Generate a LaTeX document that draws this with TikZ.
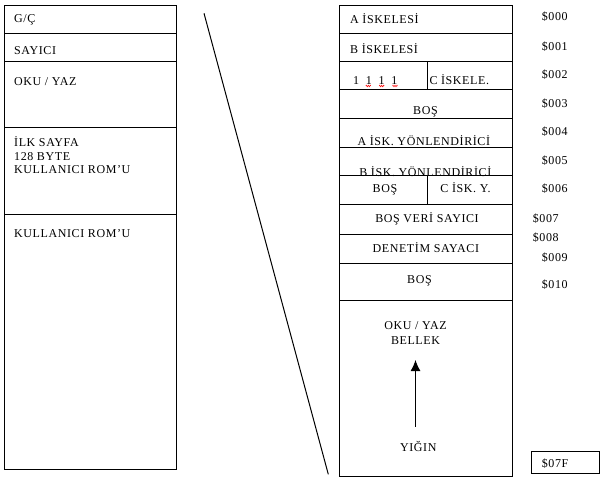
\documentclass[tikz,border=0pt]{standalone}
\usepackage{fontspec}
\setmainfont[LetterSpace=5]{Liberation Serif}
\usetikzlibrary{arrows.meta, positioning, decorations.pathmorphing}

\begin{document}
\begin{tikzpicture}[
  x=1pt, y=-1pt,
  cell/.style={rectangle, draw, line width=1pt, inner sep=0pt, outer sep=0pt, minimum height=#1},
  lcell/.style={cell=#1, minimum width=172pt},
  rcell/.style={cell=#1, minimum width=173pt},
  lbl/.style={inner sep=0pt, text height=8pt, text depth=0pt, font=\fontsize{12}{15}\selectfont},
  txt/.style={lbl, anchor=west},
  adr/.style={lbl, anchor=west},
  >={Latex[length=11pt,width=10pt]}
]
\useasboundingbox (0,0) rectangle (604,480);

% left column
\node[lcell=28pt, anchor=north west] (gc) at (4,5) {};
\node[lcell=28pt, below=0pt of gc] (cnt) {};
\node[lcell=66pt, below=0pt of cnt] (rw) {};
\node[lcell=87pt, below=0pt of rw] (pg) {};
\node[lcell=255pt, below=0pt of pg] (rom) {};

\node[txt] (gct) at (14,18.8) {G/Ç};
\node[txt] (cntt) at (14,50.3) {SAYICI};
\node[txt] (rwt) at (14,81.3) {OKU / YAZ};
\node[txt] (pgt1) at (14,142.2) {İLK SAYFA};
\node[txt] (pgt2) at (14,156.7) {128 BYTE};
\node[txt] (pgt3) at (14,169.7) {KULLANICI ROM’U};
\node[txt] (romt) at (14,233.2) {KULLANICI ROM’U};

% right column
\node[rcell=28pt, anchor=north west] (pa) at (339.5,5) {};
\node[rcell=28pt, below=0pt of pa] (pb) {};
\node[cell=28.5pt, minimum width=87.5pt, anchor=north west] (bits) at (pb.south west) {};
\node[cell=28.5pt, minimum width=85.5pt, right=0pt of bits] (pc) {};
\node[rcell=29pt, anchor=north] (free1) at (bits.south -| pb.south) {};
\node[rcell=29pt, below=0pt of free1] (dda) {};
\node[rcell=28pt, below=0pt of dda] (ddb) {};
\node[cell=29pt, minimum width=87.5pt, anchor=north west] (free2) at (ddb.south west) {};
\node[cell=29pt, minimum width=85.5pt, right=0pt of free2] (ddc) {};
\node[rcell=30pt, anchor=north] (idle) at (free2.south -| ddb.south) {};
\node[rcell=29pt, below=0pt of idle] (tmr) {};
\node[rcell=36.5pt, below=0pt of tmr] (free3) {};
\node[rcell=176pt, below=0pt of free3] (ram) {};

\node[txt] (pat) at (350,19.2) {A İSKELESİ};
\node[txt] (pbt) at (350,49.5) {B İSKELESİ};
\node[txt] (bitst) at (353,80.8) {1\hskip 6.7pt 1\hskip 6.7pt 1\hskip 6.7pt 1};
\node[txt] (pct) at (429.3,80.5) {C İSKELE.};
\node[lbl] (free1t) at (425.5,110.5) {BOŞ};
\node[lbl] (ddat) at (423.8,141.3) {A İSK. YÖNLENDİRİCİ};
\node[lbl] (ddbt) at (425.3,172.8) {B İSK. YÖNLENDİRİCİ};
\node[lbl] (free2t) at (385,188.8) {BOŞ};
\node[lbl] (ddct) at (465.5,188.8) {C İSK. Y.};
\node[lbl] (idlet) at (427,218.8) {BOŞ VERİ SAYICI};
\node[lbl] (tmrt) at (425.8,248.7) {DENETİM SAYACI};
\node[lbl] (free3t) at (419.5,279.5) {BOŞ};
\node[lbl] (ramt) at (415.5,325.8) {OKU / YAZ};
\node[lbl] (mem) at (415.5,340.8) {BELLEK};
\node[lbl] (stk) at (418.3,447.5) {YIĞIN};

% spelling marks
\foreach \sx in {368.3, 381.7, 395}
  \draw[red, line width=0.5pt, decorate, decoration={zigzag, amplitude=0.8pt, segment length=2pt}]
    (\sx-2.5,86) -- (\sx+2.5,86);

% addresses
\node[adr] (a0) at (541.7,16.7) {\$000};
\node[adr] (a1) at (541.7,46.2) {\$001};
\node[adr] (a2) at (541.7,74.7) {\$002};
\node[adr] (a3) at (541.7,103.7) {\$003};
\node[adr] (a4) at (541.7,131.3) {\$004};
\node[adr] (a5) at (541.7,160) {\$005};
\node[adr] (a6) at (541.7,188.7) {\$006};
\node[adr] (a7) at (532.7,218.7) {\$007};
\node[adr] (a8) at (532.7,237) {\$008};
\node[adr] (a9) at (541.7,257) {\$009};
\node[adr] (a10) at (541.7,284.7) {\$010};
\node[draw, line width=1pt, inner sep=0pt, minimum width=67.4pt, minimum height=22pt, anchor=north west] (endbox) at (531.3,450.7) {};
\node[adr] (a7f) at (541.7,463.3) {\$07F};

% stack growth and page split
\draw[->, line width=1pt, shorten <=16.5pt, shorten >=15pt] (stk.north -| mem.south) -- (mem.south);
\coordinate (cuttop) at (204,13.3);
\coordinate (cutbot) at (328.3,474.3);
\draw[line width=1pt] (cuttop) -- (cutbot);
\end{tikzpicture}
\end{document}
